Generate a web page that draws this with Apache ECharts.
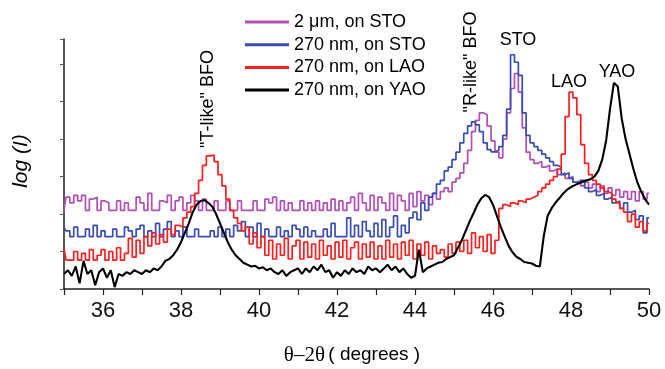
<!DOCTYPE html>
<html><head><meta charset="utf-8">
<script src="https://cdn.jsdelivr.net/npm/echarts@6/dist/echarts.min.js"></script>
<style>html,body{margin:0;padding:0;background:#fff}#c{width:665px;height:369px}</style>
</head><body><div id="c"></div>
<script>
// sampling grid: 35.0 .. 50.0 deg, 0.1 deg step (one row per degree below)
const thetaStart = 35, thetaStep = 0.1;
const seriesNames = ['2 μm, on STO', '270 nm, on STO', '270 nm, on LAO', '270 nm, on YAO'];
const xTickValues = [36, 38, 40, 42, 44, 46, 48, 50];

const magentaSTO2um = [
  2.1,2.45,2.3,2.5,2.35,2.5,2.1,2.4,2.45,2.1,
  2.35,2.3,2.1,2.1,2.35,2.1,2.3,2.1,2.1,2.45,
  2.3,2.1,2.55,2.1,2.1,2.35,2.3,2.5,2.1,2.35,
  2.45,2.1,2.3,2.5,2.35,2.1,2.4,2.1,2.1,2.35,
  2.1,2.1,2.35,2.1,2.1,2.35,2.1,2.1,2.1,2.35,
  2.1,2.1,2.4,2.3,2.45,2.1,2.35,2.1,2.3,2.1,
  2.1,2.35,2.1,2.3,2.1,2.35,2.1,2.3,2.1,2.4,
  2.1,2.35,2.1,2.3,2.45,2.1,2.55,2.3,2.1,2.5,
  2.1,2.45,2.3,2.1,2.55,2.1,2.5,2.35,2.1,2.55,
  2.2,2.6,2.35,2.5,2.25,2.55,2.4,2.6,2.7,2.6,
  2.85,2.95,3.1,3.35,3.7,4.2,4.5,4.7,4.65,4.35,
  3.95,3.65,3.5,4.0,4.7,5.35,5.75,5.25,4.3,3.65,
  3.45,3.35,3.4,3.25,3.3,3.15,3.2,3.05,3.1,2.95,
  3.0,2.85,2.9,2.75,2.85,2.7,2.8,2.6,2.75,2.55,
  2.7,2.5,2.65,2.45,2.6,2.4,2.6,2.35,2.6,2.4,
  2.55
];
const blueSTO270 = [
  1.65,1.55,1.4,1.65,1.4,1.4,1.6,1.4,1.7,1.4,
  1.55,1.4,1.4,1.6,1.4,1.4,1.65,1.55,1.4,1.6,
  1.7,1.4,1.55,1.4,1.75,1.4,1.6,1.8,1.4,1.55,
  1.4,1.65,1.4,1.4,1.6,1.4,1.4,1.4,1.55,1.4,
  1.65,1.4,1.6,1.4,1.7,1.55,1.8,1.4,1.65,1.4,
  1.75,1.4,1.6,1.4,1.4,1.65,1.4,1.55,1.4,1.7,
  1.6,1.4,1.65,1.4,1.55,1.4,1.4,1.6,1.4,1.75,
  1.4,1.4,1.4,1.9,1.4,1.7,1.4,1.8,1.55,1.4,
  1.75,1.4,1.85,1.4,1.65,1.95,1.4,1.7,1.5,1.9,
  2.05,1.85,2.3,2.1,2.45,2.55,2.8,2.9,3.15,3.25,
  3.45,3.65,3.9,4.15,4.35,4.46,4.38,4.2,3.9,3.72,
  3.66,3.7,3.8,4.1,4.8,6.25,6.05,5.7,4.7,4.1,
  3.9,3.8,3.7,3.6,3.5,3.4,3.3,3.25,3.05,3.1,
  2.95,2.85,2.8,2.9,2.7,2.6,2.65,2.5,2.55,2.4,
  2.45,2.3,2.35,2.15,2.3,2.05,2.1,1.85,1.95,1.5,
  1.9
];
const redLAO270 = [
  1.1,0.77,0.77,1.0,0.77,0.95,0.77,1.05,0.77,0.9,
  1.05,0.77,1.0,0.77,1.1,0.77,0.95,1.35,0.85,1.3,
  0.95,1.4,1.15,1.5,1.2,1.45,1.25,1.6,1.45,1.7,
  1.65,1.9,2.05,2.2,2.55,2.9,3.3,3.55,3.57,3.4,
  3.05,2.75,2.4,2.1,1.9,1.75,1.55,1.65,1.2,1.5,
  1.1,1.4,0.9,1.3,0.8,1.2,0.9,1.35,0.8,1.15,
  1.3,0.8,1.25,0.85,1.2,0.8,1.3,0.9,1.15,0.8,
  1.25,0.85,1.3,0.8,1.1,1.25,0.8,1.2,0.85,1.25,
  0.8,1.15,0.8,1.3,0.85,1.2,0.8,1.25,0.9,1.3,
  0.8,1.2,0.9,1.25,0.8,1.15,0.95,1.05,0.85,1.2,
  0.95,1.25,1.0,1.3,0.95,1.5,1.1,1.4,1.0,1.45,
  0.95,1.3,2.15,2.25,2.2,2.3,2.25,2.35,2.3,2.4,
  2.45,2.5,2.6,2.7,2.8,2.9,3.0,3.2,3.6,4.6,
  5.25,5.1,4.65,3.85,3.35,3.05,2.9,2.8,2.7,2.6,
  2.55,2.4,2.3,2.15,2.05,1.8,2.0,1.65,1.8,1.55,
  1.75
];
const blackYAO270 = [
  0.4,0.5,0.35,0.6,0.15,0.75,0.4,0.5,0.1,0.45,
  0.55,0.3,0.5,0.05,0.4,0.35,0.45,0.4,0.5,0.45,
  0.4,0.5,0.45,0.55,0.5,0.6,0.75,0.8,0.9,1.05,
  1.25,1.5,1.75,2.05,2.25,2.35,2.37,2.3,2.2,2.0,
  1.75,1.5,1.25,1.05,0.9,0.8,0.7,0.65,0.6,0.62,
  0.55,0.58,0.5,0.55,0.45,0.4,0.5,0.35,0.45,0.5,
  0.55,0.4,0.55,0.45,0.6,0.5,0.65,0.45,0.5,0.3,
  0.45,0.35,0.5,0.4,0.55,0.45,0.5,0.4,0.6,0.5,
  0.55,0.45,0.55,0.65,0.5,0.6,0.45,0.55,0.4,0.3,
  0.35,1.05,0.45,0.55,0.6,0.65,0.7,0.72,0.8,0.85,
  0.9,1.1,1.3,1.55,1.8,2.02,2.25,2.42,2.51,2.45,
  2.25,1.95,1.66,1.4,1.15,0.98,0.86,0.8,0.72,0.7,
  0.68,0.62,0.6,1.4,1.95,2.15,2.3,2.42,2.55,2.65,
  2.72,2.77,2.82,2.86,2.9,2.93,3.0,3.15,3.45,3.95,
  4.8,5.5,5.4,4.55,4.0,3.6,3.2,2.85,2.6,2.4,
  2.25
];

const seriesValues = [magentaSTO2um, blueSTO270, redLAO270, blackYAO270];
const seriesColors = ['#b24fb4', '#3a4db3', '#ff1f1f', '#000000'];
const seriesStep = ['middle', 'middle', 'middle', false];
const seriesWidth = [1.7, 1.7, 1.7, 2.1];

const SANS = '"Liberation Sans", Arial, Helvetica, sans-serif';
const SERIF = '"Liberation Serif", "Times New Roman", serif';

function toPairs(arr) {
  return arr.map((v, i) => [Math.round((thetaStart + i * thetaStep) * 10) / 10, v]);
}

const chart = echarts.init(document.getElementById('c'), null, {renderer: 'canvas'});
chart.setOption({
  animation: false,
  backgroundColor: '#ffffff',
  grid: {left: 64, right: 16, top: 39, bottom: 80, containLabel: false},
  legend: {
    orient: 'vertical', left: 240, top: 8, padding: 5,
    itemWidth: 44, itemHeight: 3, itemGap: 4.7, icon: 'rect',
    data: seriesNames,
    textStyle: {fontSize: 18, fontFamily: SANS, color: '#000', lineHeight: 18, padding: [0, 0, 0, 0]}
  },
  xAxis: {
    type: 'value', min: 35, max: 50, interval: 1,
    axisLine: {show: true, onZero: false, lineStyle: {color: '#222', width: 1.5}},
    axisTick: {show: true, inside: false, length: 6, lineStyle: {color: '#222', width: 1.2}},
    axisLabel: {
      show: true, margin: 11, fontSize: 22, fontFamily: SANS, color: '#111',
      formatter: v => xTickValues.indexOf(v) >= 0 ? String(v) : ''
    },
    splitLine: {show: false}
  },
  yAxis: {
    type: 'value', min: 0, max: 6.67, interval: 1,
    axisLine: {show: true, lineStyle: {color: '#222', width: 1.5}},
    axisTick: {show: true, inside: false, length: 4, lineStyle: {color: '#555', width: 1}},
    axisLabel: {show: false},
    splitLine: {show: false}
  },
  series: seriesNames.map((name, k) => ({
    name: name, type: 'line', data: toPairs(seriesValues[k]),
    showSymbol: false, symbol: 'none', step: seriesStep[k],
    color: seriesColors[k],
    lineStyle: {color: seriesColors[k], width: seriesWidth[k]},
    z: 2 + k
  })),
  graphic: [
    {type: 'text', x: 352, y: 355, style: {
      text: '{a|θ–2θ} {b|( degrees )}', align: 'center', verticalAlign: 'middle',
      rich: {a: {fontFamily: SERIF, fontSize: 21, fill: '#000'}, b: {fontFamily: SANS, fontSize: 19, fill: '#000'}}
    }},
    {type: 'text', x: 21, y: 161, rotation: Math.PI / 2, style: {
      text: 'log (I)', align: 'center', verticalAlign: 'middle',
      font: 'italic 21px ' + SANS, fill: '#000'
    }},
    {type: 'text', x: 208, y: 99, rotation: Math.PI / 2, style: {
      text: '"T-like" BFO', align: 'center', verticalAlign: 'middle',
      font: '18px ' + SANS, fill: '#000'
    }},
    {type: 'text', x: 471, y: 62, rotation: Math.PI / 2, style: {
      text: '"R-like" BFO', align: 'center', verticalAlign: 'middle',
      font: '18px ' + SANS, fill: '#000'
    }},
    {type: 'text', x: 518, y: 40, style: {text: 'STO', align: 'center', verticalAlign: 'middle', font: '18px ' + SANS, fill: '#000'}},
    {type: 'text', x: 569, y: 82, style: {text: 'LAO', align: 'center', verticalAlign: 'middle', font: '18px ' + SANS, fill: '#000'}},
    {type: 'text', x: 617, y: 72, style: {text: 'YAO', align: 'center', verticalAlign: 'middle', font: '18px ' + SANS, fill: '#000'}}
  ]
});
</script>
</body></html>
